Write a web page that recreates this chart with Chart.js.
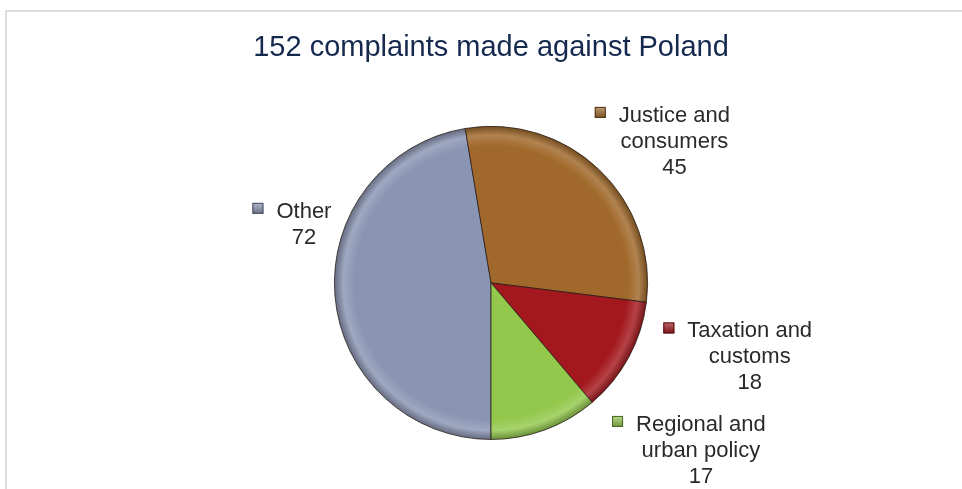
<!DOCTYPE html>
<html>
<head>
<meta charset="utf-8">
<title>152 complaints made against Poland</title>
<script src="https://cdn.jsdelivr.net/npm/chart.js@4.4.1/dist/chart.umd.min.js"></script>
<style>
  html, body { margin: 0; padding: 0; background: #fff; overflow: hidden; }
  #wrap { position: relative; width: 962px; height: 489px; }
  #frame {
    position: absolute; left: 5px; top: 10px; width: 1000px; height: 600px;
    border: 2px solid #dcdcdc; pointer-events: none;
  }
  canvas { position: absolute; left: 0; top: 0; }
</style>
</head>
<body>
<div id="wrap">
  <canvas id="pieChart" width="962" height="489"></canvas>
  <div id="frame"></div>
</div>
<script>
const chartTitle = '152 complaints made against Poland';
const categories = ['Other', 'Justice and consumers', 'Taxation and customs', 'Regional and urban policy'];
const labelLines = [['Other'], ['Justice and', 'consumers'], ['Taxation and', 'customs'], ['Regional and', 'urban policy']];
const complaints = [72, 45, 18, 17];
const sliceColors = ['#8a95b3', '#a0682a', '#a3181e', '#93c84c'];

// where each label sits, relative to the outer edge of its slice
const labelOffsets = [[-31, -78], [75, -48], [121, -20], [156, 1]];

function shade(hex, f) {
  const n = parseInt(hex.slice(1), 16);
  let rgb = [(n >> 16) & 255, (n >> 8) & 255, n & 255];
  rgb = rgb.map(v => f >= 0 ? Math.round(v + (255 - v) * f) : Math.round(v * (1 + f)));
  return `rgb(${rgb.join(',')})`;
}

const sliceLabels = {
  id: 'sliceLabels',
  afterDatasetsDraw(chart) {
    const ctx = chart.ctx;
    const meta = chart.getDatasetMeta(0);
    ctx.save();
    ctx.font = '22px "Liberation Sans", Arial, sans-serif';
    ctx.textAlign = 'center';
    ctx.textBaseline = 'alphabetic';
    meta.data.forEach((arc, i) => {
      const mid = (arc.startAngle + arc.endAngle) / 2;
      const x0 = arc.x + Math.cos(mid) * arc.outerRadius + labelOffsets[i][0];
      const y0 = arc.y + Math.sin(mid) * arc.outerRadius + labelOffsets[i][1];
      const lines = [...labelLines[i], String(complaints[i])];
      ctx.fillStyle = '#2a2a2a';
      lines.forEach((t, j) => ctx.fillText(t, x0, y0 + j * 26));
      // legend key in front of the first line
      const w = ctx.measureText(lines[0]).width;
      const kx = x0 - w / 2 - 13 - 11;
      const ky = y0 - 15;
      const g = ctx.createLinearGradient(kx, ky, kx, ky + 11);
      g.addColorStop(0, shade(sliceColors[i], 0.35));
      g.addColorStop(1, shade(sliceColors[i], -0.25));
      ctx.fillStyle = g;
      ctx.fillRect(kx, ky, 11, 11);
      ctx.strokeStyle = shade(sliceColors[i], -0.5);
      ctx.lineWidth = 1;
      ctx.strokeRect(kx + 0.5, ky + 0.5, 10, 10);
    });
    ctx.restore();
  }
};

const ctx = document.getElementById('pieChart').getContext('2d');

new Chart(ctx, {
  type: 'pie',
  data: {
    labels: categories,
    datasets: [{
      data: complaints,
      backgroundColor: (c) => {
        const base = sliceColors[c.dataIndex];
        const a = c.chart.chartArea;
        if (!a) return base;
        const cx = (a.left + a.right) / 2, cy = (a.top + a.bottom) / 2;
        const r = Math.min(a.width, a.height) / 2;
        const g = c.chart.ctx.createRadialGradient(cx, cy, 0, cx, cy, r);
        g.addColorStop(0, base);
        g.addColorStop(0.87, base);
        g.addColorStop(0.94, shade(base, 0.18));
        g.addColorStop(1, shade(base, -0.3));
        return g;
      },
      borderColor: 'rgba(35,25,20,0.75)',
      borderWidth: 1
    }]
  },
  options: {
    responsive: false,
    animation: false,
    rotation: 180,
    layout: { padding: { top: 10, left: 20, right: 0, bottom: 49 } },
    plugins: {
      legend: { display: false },
      tooltip: { enabled: false },
      title: {
        display: true,
        text: chartTitle,
        color: '#15294f',
        font: { family: '"Liberation Sans", Arial, sans-serif', size: 29, weight: 'normal' },
        padding: { top: 21, bottom: 60 }
      }
    }
  },
  plugins: [sliceLabels]
});
</script>
</body>
</html>
